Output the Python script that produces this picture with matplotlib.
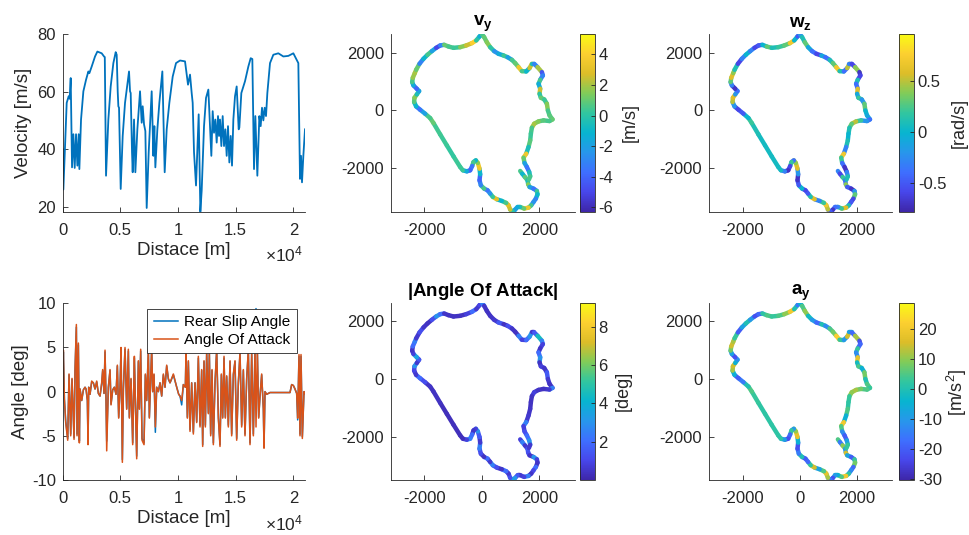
import numpy as np
import matplotlib
matplotlib.use('Agg')
import matplotlib.pyplot as plt
from matplotlib.collections import LineCollection
from matplotlib.colors import LinearSegmentedColormap

plt.rcParams['font.family'] = ['Liberation Sans', 'DejaVu Sans']
plt.rcParams['axes.unicode_minus'] = False
plt.rcParams['mathtext.fontset'] = 'custom'
plt.rcParams['mathtext.rm'] = 'Liberation Sans'
plt.rcParams['mathtext.it'] = 'Liberation Sans:italic'
plt.rcParams['mathtext.bf'] = 'Liberation Sans:bold'

# ---- velocity along the lap ----
vel_dist = [0, 58, 170, 347, 520, 600, 694, 809, 925, 1040, 1156, 1272, 1387, 1445, 1590, 1792, 2023, 2225,
            2312, 2514, 2803, 3006, 3381, 3584, 3650, 3757, 3959, 4162, 4393, 4595, 4682, 4770, 4826, 4884,
            5029, 5202, 5404, 5751, 5838, 5896, 6011, 6069, 6185, 6300, 6474, 6705, 6849, 6936, 7052, 7167,
            7283, 7456, 7716, 7861, 7948, 8034, 8208, 8381, 8641, 8843, 9017, 9248, 9537, 9826, 10173, 10606,
            10751, 10866, 11040, 11184, 11271, 11387, 11560, 11791, 11936, 12051, 12254, 12427, 12629, 12774,
            12889, 13005, 13121, 13236, 13352, 13467, 13554, 13641, 13756, 13872, 13988, 14103, 14219, 14334,
            14450, 14566, 14681, 14797, 14941, 15086, 15259, 15317, 15490, 15808, 16097, 16300, 16444, 16589,
            16704, 16878, 17051, 17167, 17282, 17398, 17513, 17629, 17745, 17976, 18265, 18698, 19132, 19565,
            19999, 20288, 20432, 20577, 20664, 20750, 20866, 21010]
velocity = [40.0, 26.0, 38.0, 56.1, 58.4, 57.5, 64.7, 33.7, 45.2, 33.5, 45.2, 34.3, 45.2, 33.1, 50.3, 60.1,
            64.1, 67.0, 66.4, 68.7, 72.2, 73.9, 73.3, 72.2, 72.0, 30.8, 50.3, 61.8, 69.9, 73.7, 72.8, 60.0,
            54.9, 54.4, 26.2, 44.6, 56.1, 67.0, 60.1, 59.5, 38.9, 32.0, 50.3, 32.0, 46.9, 60.1, 49.2, 54.9,
            48.6, 46.3, 19.6, 38.9, 60.1, 37.7, 48.0, 33.7, 46.9, 56.1, 67.0, 32.0, 46.9, 56.1, 65.2, 69.9,
            70.8, 70.5, 65.9, 62.4, 65.9, 59.5, 56.1, 38.9, 27.4, 52.1, 18.3, 25.6, 48.0, 57.8, 60.7, 48.0,
            37.7, 53.2, 45.7, 50.3, 42.3, 51.5, 44.6, 50.3, 41.1, 51.5, 41.1, 46.9, 37.7, 48.0, 35.4, 44.6,
            34.3, 50.3, 58.4, 61.8, 46.9, 47.5, 59.5, 63.6, 68.7, 71.6, 71.3, 33.1, 51.5, 30.8, 51.5, 48.0,
            54.4, 50.0, 54.4, 51.5, 59.5, 69.9, 72.8, 73.3, 72.2, 72.4, 73.3, 71.0, 69.9, 29.7, 37.7, 28.5,
            37.7, 46.9]

# ---- angles along the lap ----
ang_dist = [0, 58, 145, 260, 434, 549, 694, 809, 983, 1069, 1185, 1243, 1358, 1445, 1503, 1647, 1792, 1936,
            2023, 2139, 2196, 2254, 2370, 2514, 2659, 2803, 2948, 3092, 3237, 3381, 3468, 3584, 3670, 3757,
            3815, 3959, 4104, 4190, 4335, 4480, 4624, 4740, 4855, 4971, 5058, 5173, 5260, 5404, 5549, 5693,
            5780, 5925, 6069, 6214, 6272, 6416, 6561, 6647, 6763, 6878, 7052, 7167, 7283, 7427, 7514, 7716,
            7803, 7919, 8034, 8150, 8294, 8439, 8583, 8728, 8872, 9017, 9161, 9306, 9595, 9884, 10057, 10173,
            10317, 10462, 10635, 10693, 10809, 10895, 11040, 11184, 11329, 11473, 11618, 11762, 11907, 12051,
            12138, 12254, 12369, 12485, 12629, 12716, 12832, 12948, 13063, 13207, 13352, 13497, 13641, 13757,
            13872, 13988, 14103, 14219, 14363, 14508, 14652, 14797, 14941, 15086, 15230, 15375, 15519, 15664,
            15808, 15953, 16097, 16242, 16387, 16531, 16676, 16762, 16878, 16993, 17109, 17253, 17398, 17456,
            17542, 17687, 17976, 18554, 19132, 19710, 19854, 19999, 20143, 20288, 20375, 20490, 20577, 20664,
            20779, 20923, 21010]
angle_of_attack = [0.0, 4.7, -0.8, -3.5, -5.5, 2.0, -5.0, 1.5, -5.4, 2.5, 7.6, -5.0, 5.5, -5.8, 0.3, -1.0,
                   0.2, 0.5, 0.3, -1.0, -6.0, 0.5, -0.3, 1.2, 1.0, 0.3, 1.2, -0.2, -0.5, 1.0, 2.5, -0.2, 4.7,
                   -1.0, -6.7, 0.5, 2.5, -1.5, 0.2, 0.5, -0.3, 3.0, -3.0, 0.5, 5.0, -8.0, 0.3, 5.0, -2.0, 4.8,
                   -3.0, 1.5, -6.0, 4.0, 0.5, -7.6, 3.5, -2.0, 4.8, -5.5, -6.0, 2.0, -1.0, 4.8, -3.0, 5.0, 0.0,
                   2.0, -4.0, 0.5, 0.0, 1.0, -0.5, 2.0, 0.5, 3.0, 1.5, 1.0, 2.0, 0.5, -0.3, -0.5, -1.0, 0.8,
                   0.5, 4.5, -3.0, 3.5, -4.5, 1.0, -4.8, 1.0, -3.5, 4.0, -4.0, 2.5, -6.2, 3.5, -4.0, 4.5, -2.5,
                   4.5, -5.0, 2.5, -6.0, 1.0, 4.8, -3.0, -6.2, 2.0, -3.0, 4.0, -3.0, 1.8, -4.0, 3.5, -5.0, 2.0,
                   3.5, -5.5, 1.0, 4.5, -4.0, 2.5, -5.0, 1.5, 4.8, -6.0, 4.5, -5.0, 4.8, -4.0, 4.8, -3.0, -0.5,
                   2.0, -2.0, -6.4, 0.0, -0.3, -0.1, -0.1, -0.1, -0.1, 0.8, 0.7, 0.3, -0.2, -3.0, 4.2, -5.0,
                   4.2, -5.3, 0.0, -0.2]
rear_slip = [0.0, 4.5, -0.8, -3.3, -5.3, 1.9, -4.8, 1.4, -5.2, 2.4, 7.3, -4.8, 5.3, -5.6, 0.3, -1.0,
             0.2, 0.5, 0.3, -1.0, -5.8, 0.5, -0.3, 1.1, 1.0, 0.3, 1.1, -0.2, -0.5, 0.9, 2.4, -0.2, 4.5,
             -1.0, -5.6, 0.5, 2.4, -1.4, 0.2, 0.5, -0.3, 2.9, -2.9, 0.5, 4.8, -7.7, 0.3, 4.8, -1.9, 4.6,
             -2.9, 1.4, -5.8, 3.8, 0.5, -7.3, 3.4, -1.9, 4.6, -5.3, -5.8, 1.9, -1.0, 4.6, -2.9, 4.8, 0.0,
             1.9, -4.6, 0.5, 0.0, 1.0, -0.5, 1.9, 0.5, 2.9, 1.4, 1.0, 1.9, 0.5, -0.3, -0.5, -1.5, 0.8,
             0.5, 4.3, -2.9, 3.4, -4.3, 1.0, -4.6, 1.0, -3.4, 3.8, -3.8, 2.4, -6.0, 3.4, -3.8, 4.3, -2.4,
             4.3, -4.8, 2.4, -5.8, 1.0, 4.6, -2.9, -6.0, 1.9, -2.9, 3.8, -2.9, 1.7, -3.8, 3.4, -4.8, 1.9,
             3.4, -5.3, 1.0, 4.3, -3.8, 2.4, -4.8, 1.4, 4.6, -5.8, 4.3, -4.8, 4.6, 9.4, 4.6, -2.9, -0.5,
             1.9, -1.9, -6.2, 0.0, -0.3, -0.1, -0.1, -0.1, -0.1, 0.8, 0.7, 0.3, -0.2, -3.2, 4.0, -4.8,
             4.0, -5.1, 0.0, -0.2]

# ---- track centre line [m] ----
track_x = [1334, 1404, 1496, 1589, 1612, 1659, 1798, 1914, 1937, 1879, 1798, 1717, 1624, 1473, 1334, 1241,
           1160, 1079, 986, 928, 847, 696, 522, 383, 290, 197, 81, -35, -81, -58, -81, -139, -209, -290, -336,
           -406, -522, -661, -754, -986, -1218, -1450, -1682, -1798, -1972, -2146, -2285, -2355, -2343, -2262,
           -2181, -2262, -2378, -2424, -2401, -2332, -2285, -2169, -2030, -1891, -1740, -1589, -1450, -1311,
           -1160, -986, -754, -545, -348, -197, -81, 0, 81, 174, 290, 429, 580, 754, 893, 1044, 1160, 1276,
           1392, 1543, 1659, 1740, 1821, 1937, 2088, 2123, 2030, 1972, 2030, 2007, 2053, 2169, 2262, 2297,
           2355, 2459, 2355, 2146, 1972, 1821, 1740, 1705, 1682, 1624, 1543, 1450, 1485, 1566, 1647, 1682, 1636]
track_y = [-2093, -2185, -2300, -2415, -2553, -2645, -2703, -2783, -2898, -3048, -3163, -3278, -3358, -3393,
           -3335, -3335, -3427, -3500, -3427, -3278, -3197, -3128, -3071, -2990, -2875, -2760, -2703, -2588,
           -2415, -2208, -2013, -1817, -1725, -1783, -1921, -2070, -2105, -2070, -1955, -1587, -1208, -828,
           -437, -265, -115, 23, 138, 288, 437, 552, 667, 748, 863, 978, 1127, 1288, 1403, 1610, 1783, 1921,
           2047, 2162, 2243, 2266, 2208, 2162, 2185, 2243, 2323, 2415, 2553, 2640, 2530, 2358, 2185, 2047,
           1955, 1898, 1840, 1748, 1633, 1495, 1357, 1346, 1461, 1610, 1610, 1495, 1323, 1208, 1058, 920, 748,
           575, 437, 380, 230, 0, -173, -311, -368, -345, -380, -460, -598, -805, -1035, -1265, -1495, -1633,
           -1817, -1955, -2128, -2277, -2392]

# per segment values along the track
v_y = [0.5, -1.0, 0.8, -0.5, 1.5, -2.0, -3.5, 0.3, -1.0, -3.0, -2.5, 0.5, 3.5, 1.0, -0.5, -1.5, -2.0, 0.0,
       2.5, 3.0, 0.5, -1.0, 3.0, 0.2, -2.5, -3.5, 0.5, -3.0, -4.0, -1.0, 3.5, 1.5, -1.0, 0.5, -3.5, -4.0,
       -1.5, 0.3, 0.3, 0.2, 0.3, 0.4, 1.0, 0.5, -2.0, -3.5, -1.0, 0.8, 1.5, -0.5, -2.0, -4.0, -1.5, 0.5, 1.8,
       2.0, 1.0, -3.0, -1.0, 0.5, -2.0, -5.0, -3.0, 1.0, 0.5, 0.3, 1.5, 2.5, 4.0, 0.0, -1.5, 0.5, 1.0, 1.5,
       0.0, -2.5, -1.5, 0.3, -2.0, 0.5, 1.0, 3.5, 0.5, -1.0, 2.5, -0.5, -3.0, 2.0, -4.5, -3.0, 0.5, -1.5,
       2.5, 0.0, 1.0, 0.3, 1.5, 0.5, 0.8, 1.0, 0.5, 0.8, 1.5, 2.0, 0.5, 0.3, 0.8, -0.5, 3.5, 1.0, -2.0, -3.5,
       -0.5, 0.5]
w_z = [-0.3, -0.6, 0.2, -0.4, 0.4, -0.5, -0.7, -0.2, 0.3, -0.6, -0.5, 0.1, 0.6, 0.2, -0.3, -0.4, -0.7, -0.5,
       0.5, 0.7, 0.2, -0.3, 0.6, 0.1, -0.5, -0.6, 0.0, -0.5, -0.7, -0.2, 0.6, 0.4, -0.4, 0.2, -0.6, -0.7,
       -0.3, 0.05, 0.05, 0.05, 0.05, 0.1, 0.2, 0.0, -0.5, -0.6, -0.2, 0.5, 0.6, -0.2, -0.4, -0.7, -0.3, 0.3,
       0.6, 0.4, 0.1, -0.6, -0.3, 0.0, -0.3, -0.6, -0.5, 0.0, 0.3, 0.1, 0.2, 0.3, 0.7, 0.0, -0.5, -0.2, 0.1,
       0.3, -0.1, -0.4, -0.6, -0.1, -0.4, 0.1, 0.3, 0.7, 0.1, -0.4, 0.5, -0.3, -0.6, 0.4, -0.7, -0.6, 0.1,
       -0.4, 0.6, -0.1, 0.2, -0.2, 0.3, 0.0, -0.1, -0.4, -0.2, 0.2, 0.5, 0.3, 0.1, 0.0, 0.1, -0.3, 0.7, 0.2,
       -0.4, -0.7, -0.3, 0.1]
abs_aoa = [0.8, 2.5, 0.6, 1.5, 1.2, 0.5, 3.0, 0.8, 0.5, 2.0, 1.0, 0.5, 2.5, 0.8, 0.6, 1.5, 3.0, 3.5, 1.2,
           0.6, 2.0, 0.5, 1.2, 2.5, 0.6, 2.0, 0.4, 1.2, 2.5, 0.6, 1.5, 3.0, 0.8, 0.5, 2.0, 2.5, 0.8, 0.3, 0.3,
           0.3, 0.3, 0.4, 0.4, 0.5, 1.2, 2.0, 0.6, 1.0, 3.0, 0.6, 1.5, 3.5, 0.8, 0.5, 2.0, 2.5, 0.6, 1.2, 0.5,
           0.4, 1.2, 3.0, 2.0, 0.5, 0.4, 0.4, 0.4, 0.8, 2.0, 0.6, 1.0, 2.5, 0.5, 0.4, 0.5, 0.6, 1.5, 0.4, 1.2,
           0.5, 0.4, 2.5, 0.8, 2.0, 3.0, 0.6, 1.5, 4.5, 2.5, 0.8, 0.5, 2.0, 3.0, 0.4, 0.8, 0.5, 1.5, 0.6, 0.4,
           2.5, 0.6, 0.4, 0.5, 0.8, 0.4, 0.4, 0.5, 0.6, 2.5, 0.8, 1.2, 2.0, 3.0, 0.6]
a_y = [5, -15, 10, -10, 15, -8, -20, 3, 8, -18, -12, 2, 20, 5, -5, -10, -22, -15, 12, 18, 5, -8, 15, 2, -18,
       -20, 0, -15, -22, -5, 18, 10, -10, 3, -18, -22, -8, 2, 2, 2, 2, 3, 5, 0, -15, -20, -5, 12, 15, -5,
       -12, -22, -8, 8, 15, 12, 3, -20, -8, 0, -10, -22, -18, 2, 5, 3, 5, 10, 20, 0, -15, -5, 5, 10, -2,
       -10, -18, 0, -12, 5, 8, 22, 3, -10, 15, -8, -18, 12, -22, -18, 3, -12, 18, -2, 5, -5, 8, 0, 5, 3,
       5, 8, 12, 10, 3, 2, 5, -5, 20, 5, -12, -20, -8, 3]

parula = LinearSegmentedColormap.from_list('parula', [
    (0.2422, 0.1504, 0.6603), (0.2803, 0.2782, 0.9221), (0.2440, 0.4358, 0.9988),
    (0.1540, 0.5902, 0.9218), (0.0297, 0.7082, 0.8163), (0.1938, 0.7758, 0.6251),
    (0.5044, 0.7993, 0.3480), (0.8634, 0.7406, 0.1596), (0.9892, 0.8136, 0.1885),
    (0.9769, 0.9839, 0.0805)])

W, H = 969, 535
fig = plt.figure(figsize=(W / 100, H / 100), dpi=100)
dark = '#262626'


def box(l, r, t, b):
    return [l / W, 1 - b / H, (r - l) / W, (b - t) / H]


def style(ax):
    for s in ['top', 'right']:
        ax.spines[s].set_visible(False)
    for s in ['left', 'bottom']:
        ax.spines[s].set_color(dark)
        ax.spines[s].set_linewidth(0.6)
    ax.tick_params(direction='in', length=3.5, width=0.6, colors=dark, labelsize=12)
    ax.tick_params(axis='y', pad=5)
    ax.tick_params(axis='x', pad=8)


def dist_axis(ax, y_offset):
    ax.set_xlim(0, 21010)
    ax.set_xticks([0, 5000, 10000, 15000, 20000])
    ax.set_xticklabels(['0', '0.5', '1', '1.5', '2'])
    ax.set_xlabel('Distace [m]', fontsize=13.5, color=dark, labelpad=3)
    fig.text(284 / W, 1 - y_offset / H, r'$\times$10$^{4}$', fontsize=12.5, color=dark,
             ha='center', va='center')


# velocity
ax = fig.add_axes(box(62.7, 305, 34, 211.7))
style(ax)
ax.plot(vel_dist, velocity, color='#0072BD', lw=1.3)
ax.set_ylim(18.3, 80)
ax.set_yticks([20, 40, 60, 80])
ax.set_ylabel('Velocity [m/s]', fontsize=13.5, color=dark)
dist_axis(ax, 254)

# angles
ax = fig.add_axes(box(62.7, 305, 303.3, 480))
style(ax)
ax.plot(ang_dist, rear_slip, color='#0072BD', lw=1.1, label='Rear Slip Angle')
ax.plot(ang_dist, angle_of_attack, color='#D95319', lw=1.1, label='Angle Of Attack')
ax.set_ylim(-10, 10)
ax.set_yticks([-10, -5, 0, 5, 10])
ax.set_ylabel('Angle [deg]', fontsize=13.5, color=dark, labelpad=2)
dist_axis(ax, 523)
leg = ax.legend(loc='upper right', bbox_to_anchor=(0.966, 0.966), borderaxespad=0, fontsize=11.1,
                handlelength=1.6, handletextpad=0.4, borderpad=0.4, labelspacing=0.25,
                fancybox=False, framealpha=1)
leg.get_frame().set_edgecolor(dark)
leg.get_frame().set_linewidth(0.6)


def track_panel(rect, crect, values, vmin, vmax, ticks, ticklabels, label, label_xy, title):
    ax = fig.add_axes(rect)
    style(ax)
    pts = np.column_stack([track_x, track_y])
    segs = np.stack([pts[:-1], pts[1:]], axis=1)
    lc = LineCollection(segs, cmap=parula, norm=plt.Normalize(vmin, vmax), linewidths=3.2,
                        capstyle='round', joinstyle='round')
    lc.set_array(np.asarray(values, dtype=float))
    ax.add_collection(lc)
    ax.set_xlim(-3170, 3240)
    ax.set_ylim(-3500, 2640)
    ax.set_xticks([-2000, 0, 2000])
    ax.set_yticks([-2000, 0, 2000])
    ax.set_title(title, fontsize=13.5, color='black', pad=5)
    cax = fig.add_axes(crect)
    cb = fig.colorbar(lc, cax=cax, ticks=ticks)
    cb.set_ticklabels(ticklabels)
    cb.outline.set_linewidth(0.6)
    cb.outline.set_edgecolor(dark)
    cb.ax.tick_params(direction='in', length=3, width=0.6, colors=dark, labelsize=12, pad=2.5)
    fig.text(label_xy[0] / W, 1 - label_xy[1] / H, label, fontsize=13, color=dark,
             rotation=90, ha='center', va='center')


track_panel(box(390.7, 575, 34, 211.7), box(580, 595, 34, 211.7), v_y, -6.29, 5.33,
            [-6, -4, -2, 0, 2, 4], ['-6', '-4', '-2', '0', '2', '4'], '[m/s]', (630, 123),
            r'$\mathbf{v_y}$')
track_panel(box(709.3, 892.3, 34, 211.7), box(899.3, 914.3, 34, 211.7), w_z, -0.785, 0.963,
            [-0.5, 0, 0.5], ['-0.5', '0', '0.5'], '[rad/s]', (959, 123), r'$\mathbf{w_z}$')
track_panel(box(390.7, 575, 302.7, 480), box(580, 595, 302.7, 480), abs_aoa, 0.0, 9.25,
            [2, 4, 6, 8], ['2', '4', '6', '8'], '[deg]', (623, 391), r'$\mathbf{|Angle\ Of\ Attack|}$')
track_panel(box(709.3, 892.3, 302.7, 480), box(899.3, 914.3, 302.7, 480), a_y, -30.2, 28.9,
            [-30, -20, -10, 0, 10, 20], ['-30', '-20', '-10', '0', '10', '20'], r'[m/s$^2$]',
            (957, 392), r'$\mathbf{a_y}$')

fig.savefig('out.png', dpi=100)
